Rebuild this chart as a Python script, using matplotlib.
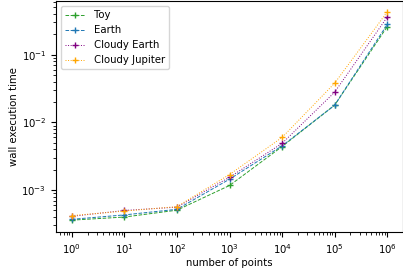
import matplotlib
matplotlib.use("Agg")
import matplotlib.pyplot as plt

n_points = [1, 10, 100, 1000, 10000, 100000, 1000000]

toy = [3.6e-4, 4.0e-4, 5.05e-4, 1.17e-3, 4.4e-3, 0.018, 0.26]
earth = [3.7e-4, 4.3e-4, 5.2e-4, 1.45e-3, 4.5e-3, 0.018, 0.28]
cloudy_earth = [4.1e-4, 5.0e-4, 5.6e-4, 1.55e-3, 4.9e-3, 0.028, 0.36]
cloudy_jupiter = [4.2e-4, 4.9e-4, 5.7e-4, 1.7e-3, 6.0e-3, 0.038, 0.43]

names = ["Toy", "Earth", "Cloudy Earth", "Cloudy Jupiter"]
series = [toy, earth, cloudy_earth, cloudy_jupiter]
colors = ["tab:green", "tab:blue", "purple", "orange"]
styles = ["--", "--", ":", ":"]

fig, ax = plt.subplots(figsize=(4.03, 2.73), dpi=100)

for name, vals, c, ls in zip(names, series, colors, styles):
    ax.plot(n_points, vals, ls, color=c, marker="+", lw=0.7, ms=5, label=name)

ax.set_xscale("log")
ax.set_yscale("log")
ax.set_ylim(2.4e-4, 0.62)
ax.set_xlabel("number of points", fontsize=7.3, labelpad=2)
ax.set_ylabel("wall execution time", fontsize=7.3, labelpad=2)
ax.tick_params(labelsize=7.3)
ax.legend(fontsize=7.3, loc="upper left")

fig.subplots_adjust(left=0.139, right=1.0, top=0.996, bottom=0.15)
fig.savefig("out.png")
